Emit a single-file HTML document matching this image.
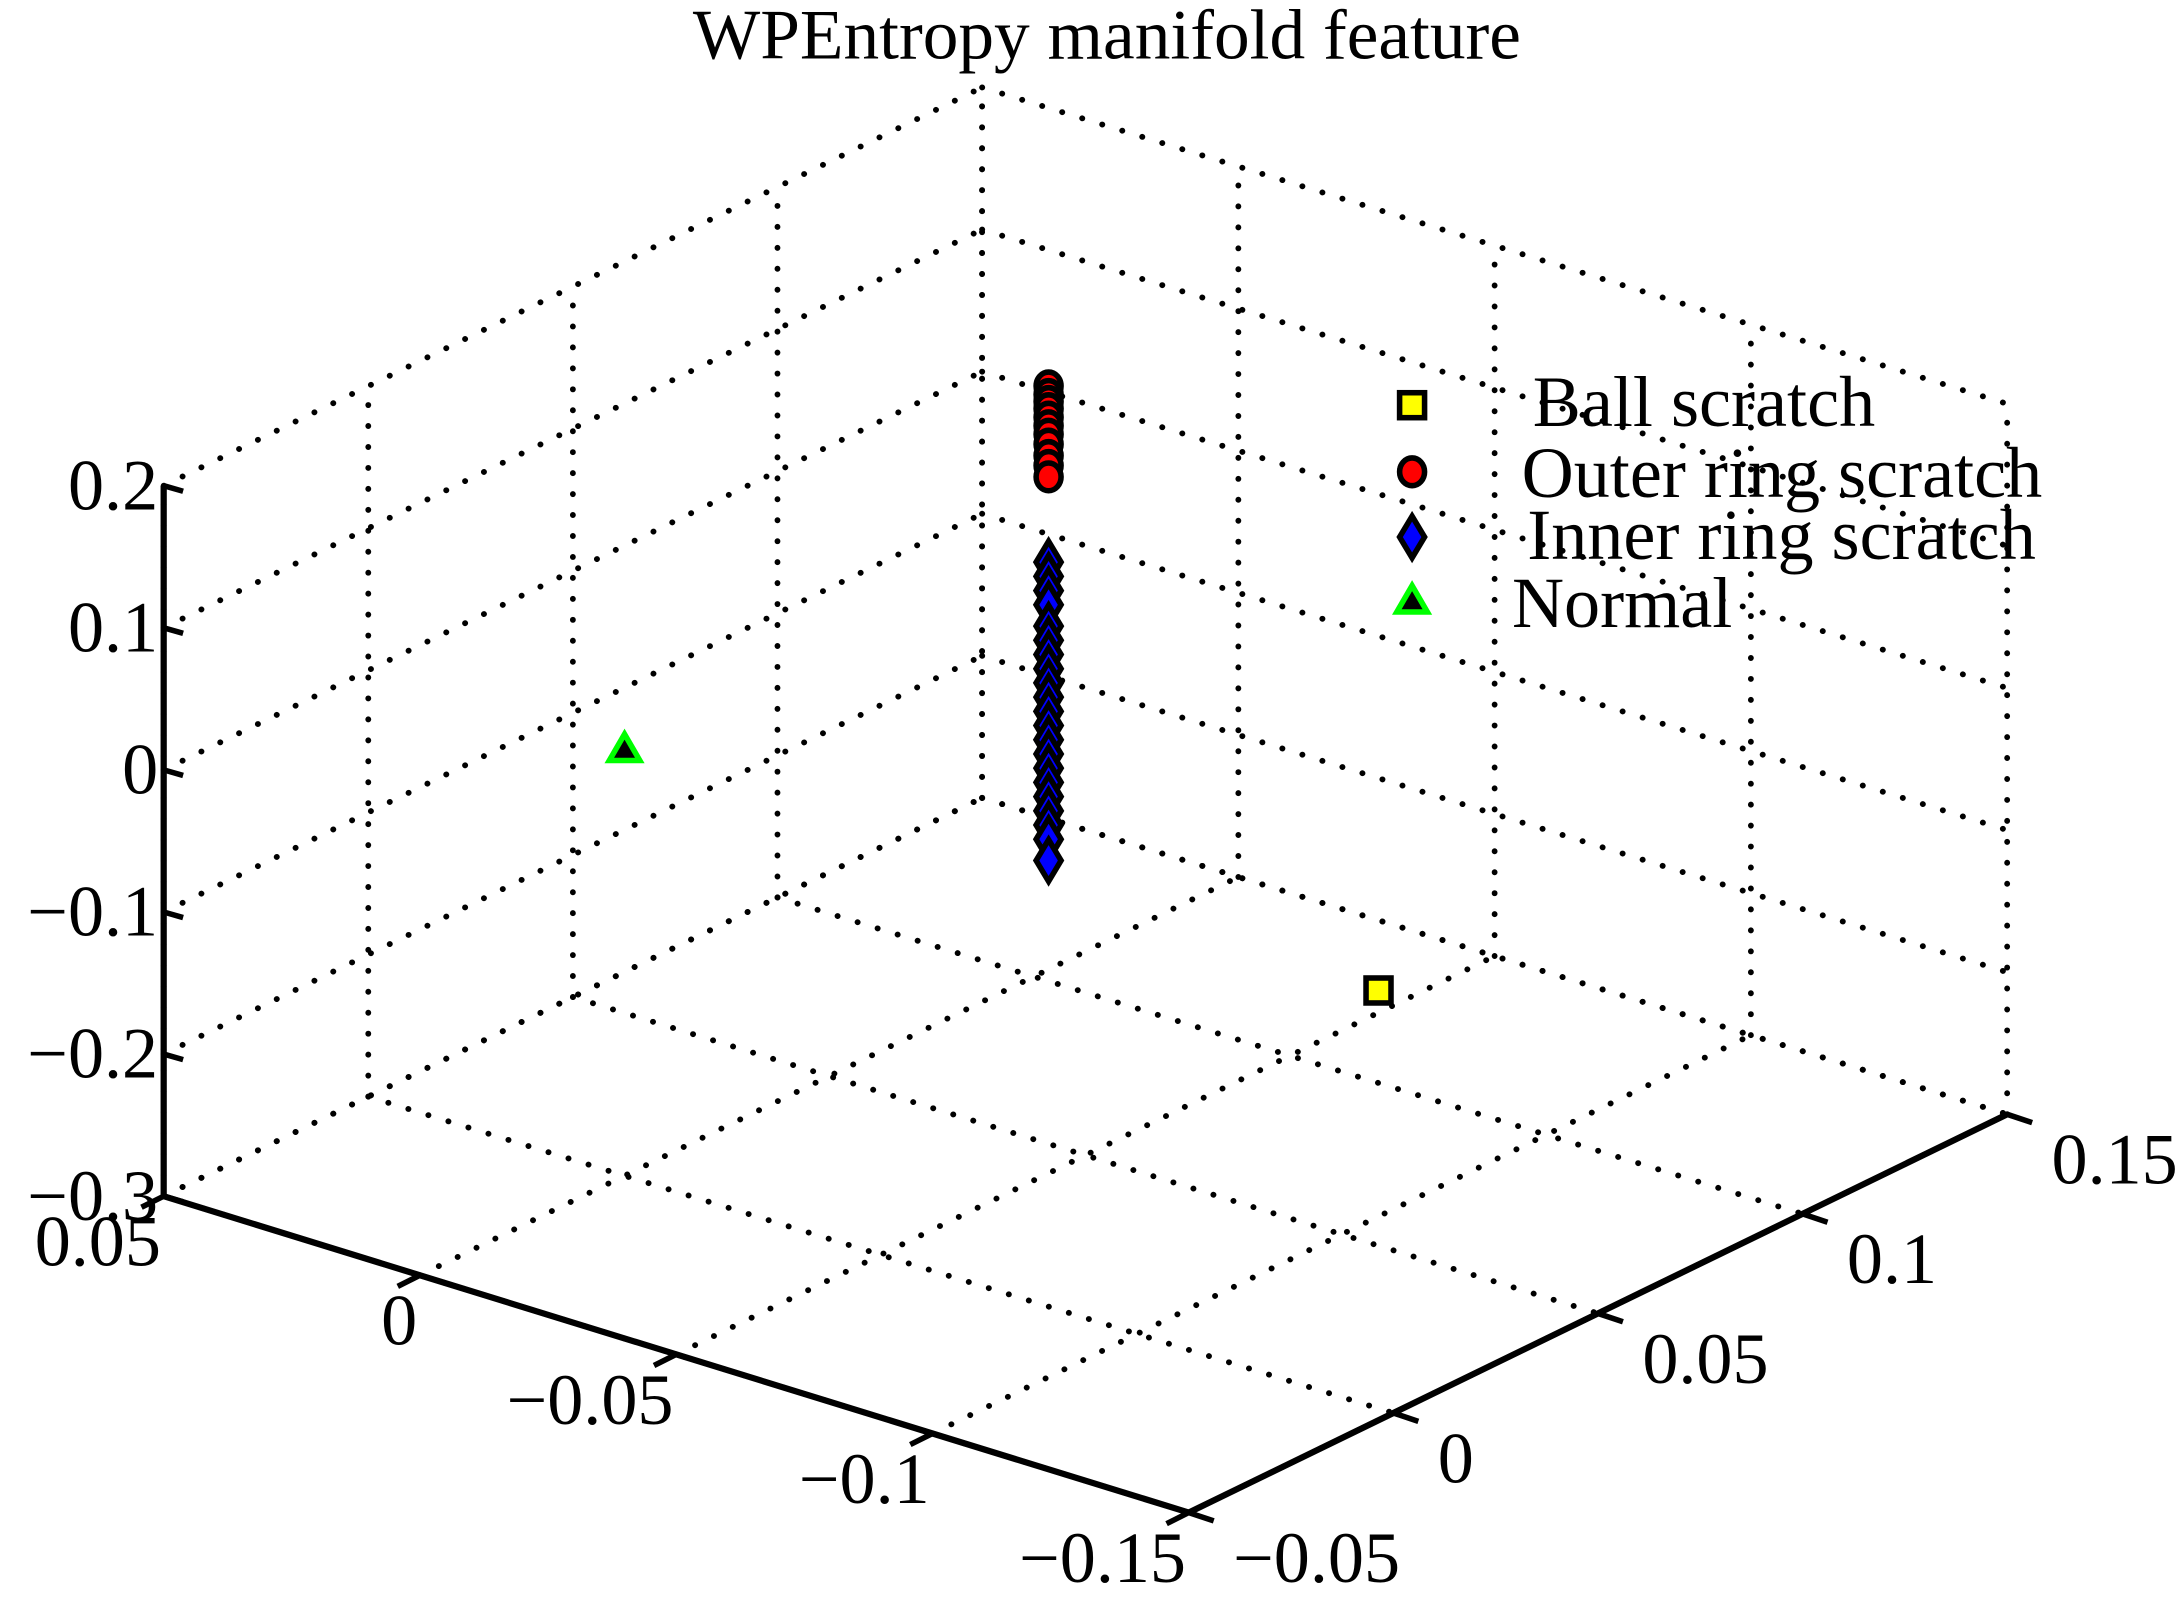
<!DOCTYPE html>
<html><head><meta charset="utf-8"><style>html,body{margin:0;padding:0;background:#fff}svg{display:block}</style></head>
<body>
<svg id="chart" xmlns="http://www.w3.org/2000/svg" width="2175" height="1600" viewBox="0 0 1568 1153" preserveAspectRatio="none" font-family="Liberation Serif, serif">
<rect width="1568" height="1153" fill="#fff"/>
<text x="798" y="42" font-size="51" text-anchor="middle" textLength="597" lengthAdjust="spacingAndGlyphs">WPEntropy manifold feature</text>
<g id="grid"></g>
<g id="axes"></g>
<g id="marks"></g>
<g id="legend"></g>
</svg>
<script>
const uTicks = [0.05, 0, -0.05, -0.1, -0.15];
const vTicks = [-0.05, 0, 0.05, 0.1, 0.15];
const zTicks = [0.2, 0.1, 0, -0.1, -0.2, -0.3];
const uLabels = ["0.05","0","\u22120.05","\u22120.1","\u22120.15"];
const vLabels = ["\u22120.05","0","0.05","0.1","0.15"];
const zLabels = ["0.2","0.1","0","\u22120.1","\u22120.2","\u22120.3"];
const ballU = [-0.1], ballV = [0.059], ballZ = [-0.141];
const outerZ = [0.254,0.248,0.243,0.238,0.232,0.226,0.22,0.213,0.205,0.198,0.19];
const innerZ = [0.13,0.12,0.11,0.1,0.085,0.075,0.065,0.055,0.045,0.035,0.025,0.015,0.005,-0.005,-0.015,-0.025,-0.035,-0.045,-0.055,-0.065,-0.08];
const colU = -0.05, colV = 0.041;
const normalU = [0], normalV = [0], normalZ = [0];

const L = [118, 862], D1 = [739, 228], D2 = [590, -287], H = 512;
function proj(u, v, z) {
  const a = (0.05 - u) / 0.2, b = (v + 0.05) / 0.2, h = (z + 0.3) / 0.5 * H;
  return [L[0] + a * D1[0] + b * D2[0], L[1] + a * D1[1] + b * D2[1] - h];
}
const NS = "http://www.w3.org/2000/svg";
function mk(tag, attrs, parent) {
  const e = document.createElementNS(NS, tag);
  for (const k in attrs) e.setAttribute(k, attrs[k]);
  parent.appendChild(e); return e;
}
const grid = document.getElementById('grid'), axes = document.getElementById('axes'),
      marks = document.getElementById('marks'), legend = document.getElementById('legend');
function dotted(p, q) {
  const l = mk('line', {x1:p[0],y1:p[1],x2:q[0],y2:q[1],stroke:'#000','stroke-width':4.2,'stroke-linecap':'round','stroke-dasharray':'0.1 15'}, grid);
  
  
}
const zMin = -0.3, zMax = 0.2, uBack = 0.05, vBack = 0.15;
uTicks.forEach(u => dotted(proj(u, -0.05, zMin), proj(u, 0.15, zMin)));
vTicks.forEach(v => dotted(proj(0.05, v, zMin), proj(-0.15, v, zMin)));
vTicks.forEach(v => dotted(proj(uBack, v, zMin), proj(uBack, v, zMax)));
zTicks.forEach(z => dotted(proj(uBack, -0.05, z), proj(uBack, 0.15, z)));
uTicks.forEach(u => dotted(proj(u, vBack, zMin), proj(u, vBack, zMax)));
zTicks.forEach(z => dotted(proj(0.05, vBack, z), proj(-0.15, vBack, z)));

function solid(p, q, w, name) {
  const l = mk('line', {x1:p[0],y1:p[1],x2:q[0],y2:q[1],stroke:'#000','stroke-width':w}, axes);
  
  
}
solid(proj(0.05,-0.05,-0.3), proj(0.05,-0.05,0.2), 4.5, 'z-axis');
solid(proj(0.05,-0.05,-0.3), proj(-0.15,-0.05,-0.3), 4.5, 'u-axis');
solid(proj(-0.15,-0.05,-0.3), proj(-0.15,0.15,-0.3), 4.5, 'v-axis');
function txt(x, y, s, anchor, name) {
  const t = mk('text', {x:x, y:y, 'font-size':52, 'text-anchor':anchor}, axes);
  t.textContent = s;
  
  
}
zTicks.forEach((z, i) => {
  const p = proj(0.05, -0.05, z);
  solid(p, [p[0] + 14, p[1] + 4], 4, 'z-tick');
  txt(p[0] - 4, p[1] + 17, zLabels[i], 'end', 'z-tick-label');
});
uTicks.forEach((u, i) => {
  const p = proj(u, -0.05, -0.3);
  solid(p, [p[0] - 16, p[1] + 8], 4, 'u-tick');
  txt(p[0] - 2, p[1] + 50, uLabels[i], 'end', 'u-tick-label');
});
vTicks.forEach((v, i) => {
  const p = proj(-0.15, v, -0.3);
  solid(p, [p[0] + 18, p[1] + 6], 4, 'v-tick');
  txt(p[0] + 32, p[1] + 50, vLabels[i], 'start', 'v-tick-label');
});

function square(x, y, parent) {
  return mk('rect', {x:x-9,y:y-9,width:18,height:18,fill:'#ff0',stroke:'#000','stroke-width':4}, parent);
}
function circle(x, y, parent) {
  return mk('ellipse', {cx:x,cy:y,rx:9,ry:10,fill:'#f00',stroke:'#000','stroke-width':4}, parent);
}
function diamond(x, y, parent) {
  return mk('polygon', {points:`${x},${y-15} ${x+9},${y} ${x},${y+15} ${x-9},${y}`,fill:'#00f',stroke:'#000','stroke-width':4}, parent);
}
function triangle(x, y, parent) {
  return mk('polygon', {points:`${x},${y-11} ${x+11},${y+8} ${x-11},${y+8}`,fill:'#000',stroke:'#0f0','stroke-width':4}, parent);
}
innerZ.forEach(z => {
  const p = proj(colU, colV, z);
  const m = diamond(p[0], p[1], marks);
  
  
});
outerZ.forEach(z => {
  const p = proj(colU, colV, z);
  const m = circle(p[0], p[1], marks);
  
  
});
ballU.forEach((u, i) => {
  const p = proj(u, ballV[i], ballZ[i]);
  const m = square(p[0], p[1], marks);
  
  
});
normalU.forEach((u, i) => {
  const p = proj(u, normalV[i], normalZ[i]);
  const m = triangle(p[0], p[1], marks);
  
  
});

const legItems = [["Ball scratch", square, 292, 307, 1105],["Outer ring scratch", circle, 340, 358, 1097],["Inner ring scratch", diamond, 387, 403, 1101],["Normal", triangle, 433, 452, 1090]];
legItems.forEach(it => {
  const m = it[1](1018, it[2], legend);
  
  
  const t = mk('text', {x:it[4], y:it[3], 'font-size':52}, legend);
  t.textContent = it[0];
  
  
});
</script>
</body></html>
